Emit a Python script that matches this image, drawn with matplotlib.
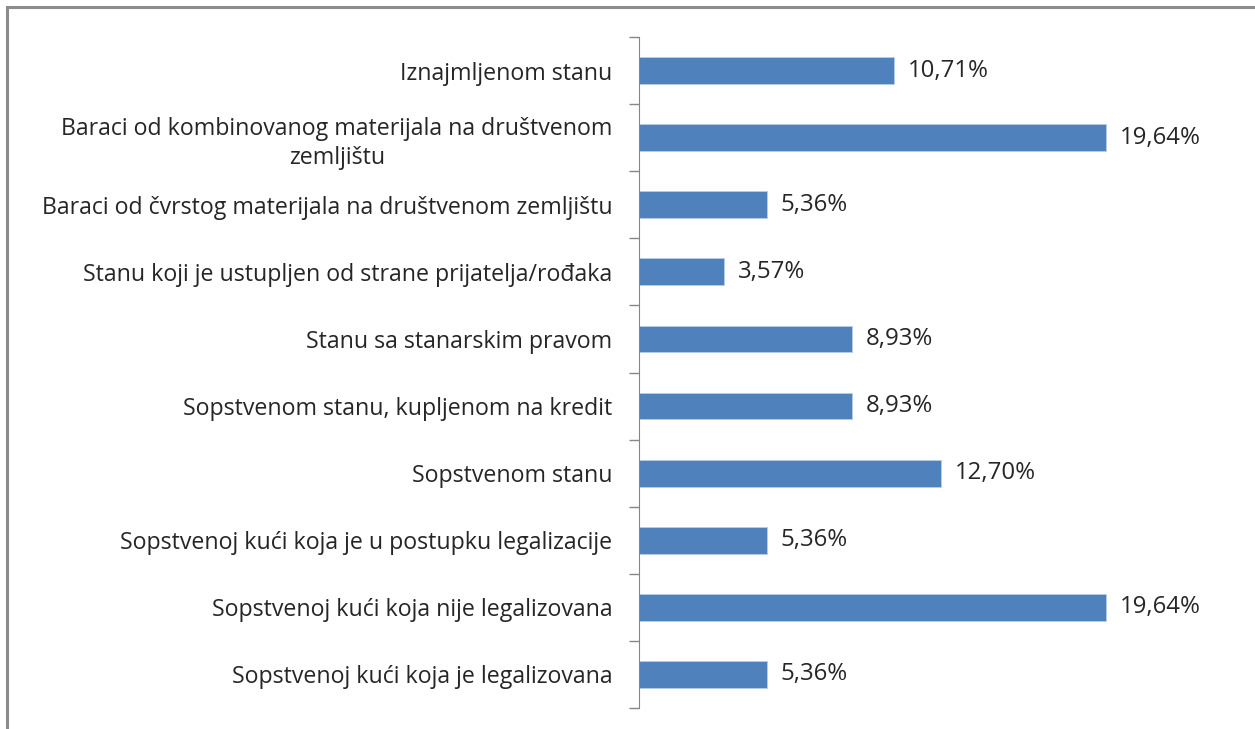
import matplotlib.pyplot as plt
from matplotlib.patches import Rectangle

categories = [
    "Iznajmljenom stanu",
    "Baraci od kombinovanog materijala na društvenom\nzemljištu",
    "Baraci od čvrstog materijala na društvenom zemljištu",
    "Stanu koji je ustupljen od strane prijatelja/rođaka",
    "Stanu sa stanarskim pravom",
    "Sopstvenom stanu, kupljenom na kredit",
    "Sopstvenom stanu",
    "Sopstvenoj kući koja je u postupku legalizacije",
    "Sopstvenoj kući koja nije legalizovana",
    "Sopstvenoj kući koja je legalizovana",
]
values = [10.71, 19.64, 5.36, 3.57, 8.93, 8.93, 12.70, 5.36, 19.64, 5.36]
value_labels = ["10,71%", "19,64%", "5,36%", "3,57%", "8,93%",
                "8,93%", "12,70%", "5,36%", "19,64%", "5,36%"]

plt.rcParams['font.family'] = ['Open Sans', 'DejaVu Sans']

fig = plt.figure(figsize=(12.55, 7.29), dpi=100)
# outer chart frame
fig.patches.append(Rectangle((7 / 1255, -0.05), 1.2, 1 - 7 / 729 + 0.05,
                             transform=fig.transFigure, fill=False,
                             edgecolor='#8c8c8c', linewidth=2.2))

ax = fig.add_axes([639 / 1255, 1 - 708 / 729, 595 / 1255, 671 / 729])
ypos = list(range(len(categories)))
ax.barh(ypos, values, height=0.4, color='#4f81bd', edgecolor='#b9cde5', linewidth=0.6)
ax.set_xlim(0, 25)
ax.set_ylim(len(categories) - 0.5, -0.5)

for y, v, lab in zip(ypos, values, value_labels):
    ax.annotate(lab, (v, y), xytext=(10, 0), textcoords='offset points',
                va='center', ha='left', fontsize=17.3, color='#262626')

ax.set_yticks(ypos)
ax.set_yticklabels(categories, fontsize=16.7, color='#262626',
                   multialignment='center', linespacing=1.3)
ax.tick_params(axis='y', which='major', length=0, pad=19)
ax.set_yticks([i - 0.5 for i in range(len(categories) + 1)], minor=True)
ax.tick_params(axis='y', which='minor', length=7, width=1, color='#868686')
ax.set_xticks([])
for s in ['top', 'right', 'bottom']:
    ax.spines[s].set_visible(False)
ax.spines['left'].set_color('#868686')

fig.savefig("out.png", dpi=100)
